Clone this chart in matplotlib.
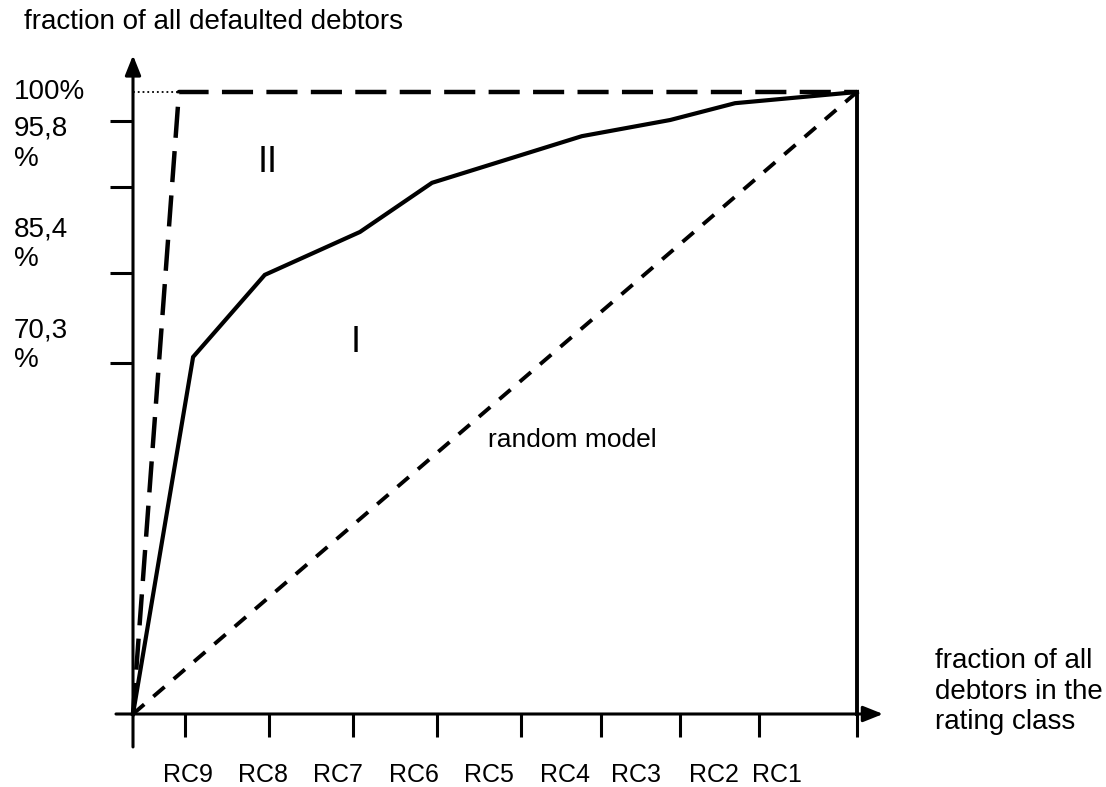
import matplotlib.pyplot as plt

plt.rcParams['font.family'] = ['Liberation Sans', 'DejaVu Sans']

# CAP curve (schematic, normalised: x = fraction of debtors, y = fraction of defaulted)
cap_x = [0.0, 0.083, 0.182, 0.3135, 0.413, 0.620, 0.742, 0.8315, 1.0]
cap_y = [0.0, 0.574, 0.706, 0.775, 0.854, 0.929, 0.955, 0.982, 1.0]

# perfect model and random model
perfect_x = [0.0, 0.0635, 1.0]
perfect_y = [0.0, 1.0, 1.0]
random_x = [0.0, 1.0]
random_y = [0.0, 1.0]

# tick marks and their (offset) labels
xtick_marks = [0.0718, 0.188, 0.304, 0.420, 0.536, 0.646, 0.756, 0.865, 1.0]
xlabel_pos = [0.076, 0.180, 0.283, 0.388, 0.492, 0.597, 0.695, 0.803, 0.889]
xlabels = ['RC9', 'RC8', 'RC7', 'RC6', 'RC5', 'RC4', 'RC3', 'RC2', 'RC1']

ytick_marks = [1.0, 0.953, 0.847, 0.709, 0.564]
ylabel_pos = [1.0, 0.917, 0.755, 0.593]
ylabels = ['100%', '95,8\n%', '85,4\n%', '70,3\n%']

fig = plt.figure(figsize=(11.06, 7.87), dpi=100)
ax = fig.add_axes([133 / 1106, 73 / 787, 724 / 1106, 622 / 787])
ax.set_xlim(0, 1)
ax.set_ylim(0, 1)
for s in ax.spines.values():
    s.set_visible(False)

# axes with arrows
arrow = dict(arrowstyle='-|>,head_length=0.6,head_width=0.24', mutation_scale=20,
             lw=2.2, color='black', shrinkA=0, shrinkB=0)
ax.annotate('', xy=(1.036, 0), xytext=(-0.0235, 0), arrowprops=arrow, annotation_clip=False)
ax.annotate('', xy=(0, 1.059), xytext=(0, -0.053), arrowprops=arrow, annotation_clip=False)

# ticks
ax.set_xticks(xtick_marks, minor=True)
ax.set_xticks(xlabel_pos, xlabels)
ax.set_yticks(ytick_marks, minor=True)
ax.set_yticks(ylabel_pos, ylabels)
ax.tick_params(which='minor', length=16.5, width=2.2, direction='out')
ax.tick_params(which='major', length=0)
ax.tick_params(axis='x', which='major', pad=35, labelsize=18)
ax.tick_params(axis='y', which='major', pad=86, labelsize=20)
for t in ax.get_yticklabels():
    t.set_horizontalalignment('left')
    t.set_verticalalignment('center')

# lines
ax.plot(cap_x, cap_y, color='black', lw=3.0, clip_on=False, solid_joinstyle='miter')
ax.plot(perfect_x, perfect_y, color='black', lw=3.2, dashes=(7, 3), clip_on=False)
ax.plot(random_x, random_y, color='black', lw=2.8, dashes=(3.8, 3.1), clip_on=False)
ax.plot([0, perfect_x[1]], [1, 1], color='black', lw=1.3, linestyle=':', clip_on=False)
ax.plot([1, 1], [0, 1], color='black', lw=2.8, clip_on=False)

# annotations
ax.text(0.186, 0.887, 'II', fontsize=26, ha='center', va='center')
ax.text(0.308, 0.598, 'I', fontsize=26, ha='center', va='center')
ax.text(0.490, 0.430, 'random model', fontsize=19, ha='left', va='baseline')
ax.text(-0.1505, 1.1125, 'fraction of all defaulted debtors', fontsize=20,
        ha='left', va='center', clip_on=False)
ax.text(1.108, 0.036, 'fraction of all\ndebtors in the\nrating class', fontsize=20,
        ha='left', va='center', linespacing=1.22, clip_on=False)

fig.savefig('out.png', dpi=100)
